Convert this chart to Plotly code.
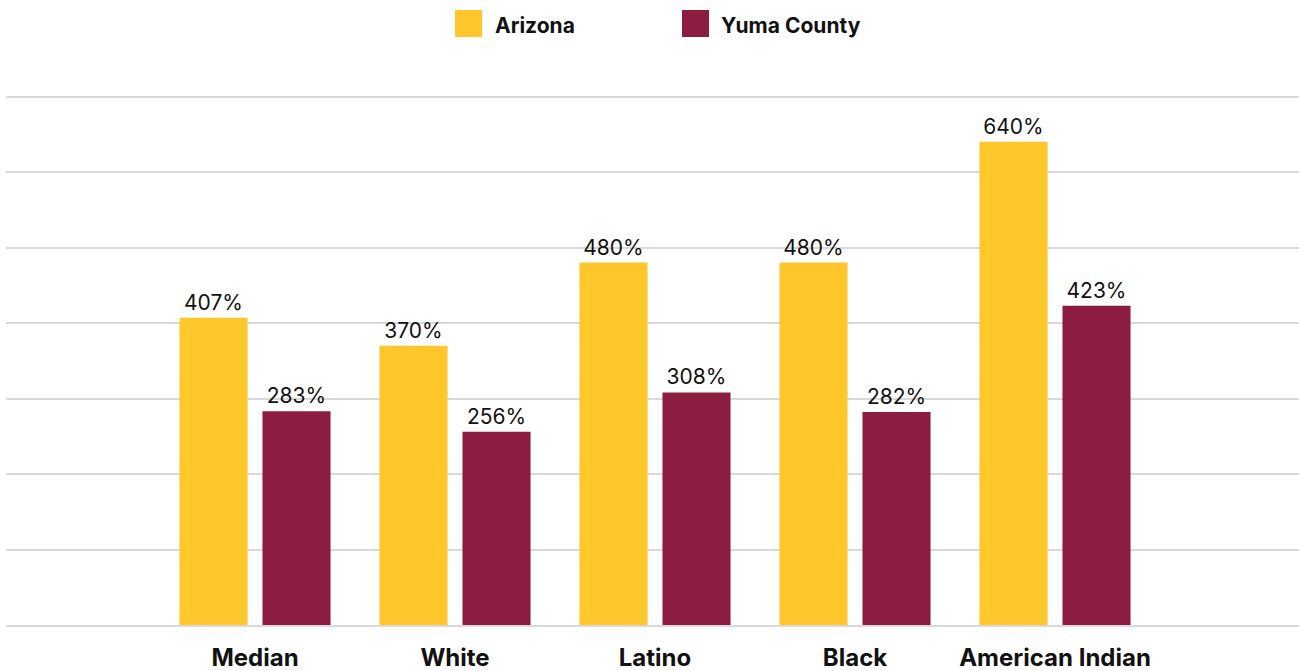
import plotly.graph_objects as go

categories = ["Median", "White", "Latino", "Black", "American Indian"]
arizona = [407, 370, 480, 480, 640]
yuma = [283, 256, 308, 282, 423]
series_names = ["Arizona", "Yuma County"]
colors = ["#FFC72C", "#8C1D40"]

FONT = "Inter, Liberation Sans, Arial, sans-serif"

fig = go.Figure()
for name, vals, col in zip(series_names, [arizona, yuma], colors):
    fig.add_trace(go.Bar(
        x=categories, y=vals, name=name, marker=dict(color=col, line=dict(width=0)),
        text=[f"{v}%" for v in vals], textposition="outside", cliponaxis=False,
        textfont=dict(family=FONT, size=21, color="#111111"),
        showlegend=False,
    ))

W, H = 1299, 671
L, R, T, B = 6, 0, 95, 46
pw, ph = W - L - R, H - T - B

def px(x):
    return (x - L) / pw

def py(y):
    return (H - B - y) / ph

shapes = []
annotations = []
legend_pos = [(455, 493), (682, 719)]
for (sx, tx), name, col in zip(legend_pos, series_names, colors):
    shapes.append(dict(type="rect", xref="paper", yref="paper",
                       x0=px(sx), x1=px(sx + 27), y0=py(37), y1=py(10),
                       fillcolor=col, line=dict(width=0)))
    annotations.append(dict(xref="paper", yref="paper", x=px(tx), y=py(25),
                            text=f"<b>{name}</b>", showarrow=False,
                            xanchor="left", yanchor="middle",
                            font=dict(family=FONT, size=21, color="#111111")))

fig.update_layout(
    width=W, height=H,
    margin=dict(l=L, r=R, t=T, b=B),
    paper_bgcolor="white", plot_bgcolor="white",
    barmode="group", bargap=0.17, bargroupgap=0.18,
    xaxis=dict(range=[-1.245, 5.22], showgrid=False, showline=True,
               linecolor="#d9d9d9", linewidth=2, ticks="",
               tickfont=dict(family=FONT, size=24, color="#111111"),
               ticklabelstandoff=10),
    yaxis=dict(range=[0, 702], tickvals=[100, 200, 300, 400, 500, 600, 700],
               showgrid=True, gridcolor="#d9d9d9",
               gridwidth=1.5, showticklabels=False, zeroline=False, showline=False),
    shapes=shapes, annotations=annotations,
    font=dict(family=FONT),
)
fig.update_xaxes(tickvals=categories, ticktext=[f"<b>{c}</b>" for c in categories])

fig.write_html("out.html")
